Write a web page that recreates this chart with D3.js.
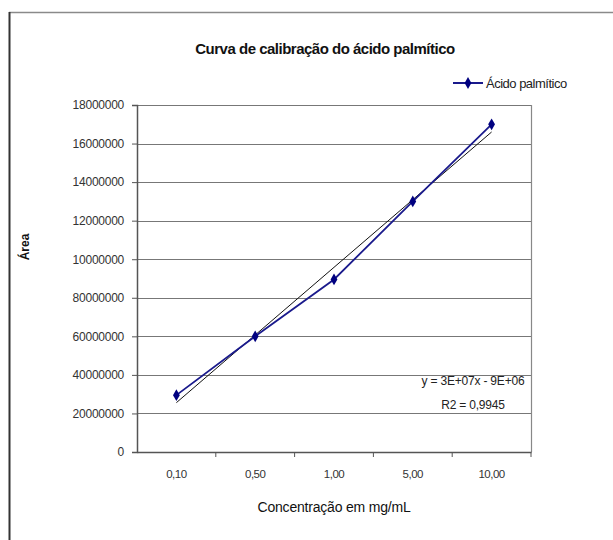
<!DOCTYPE html>
<html><head><meta charset="utf-8">
<script src="https://cdn.jsdelivr.net/npm/d3@7"></script>
<style>body{margin:0;background:#fff}svg{display:block}text{font-family:"Liberation Sans",Arial,sans-serif}</style>
</head><body>
<script>
const categories = ["0,10","0,50","1,00","5,00","10,00"];
const seriesName = "Ácido palmítico";
const values = [2950000, 6000000, 8950000, 13000000, 17000000];
const yTickValues = [0,2000000,4000000,6000000,8000000,10000000,12000000,14000000,16000000,18000000];
const yTickLabels = ["0","20000000","40000000","60000000","80000000","10000000","12000000","14000000","16000000","18000000"];
const title = "Curva de calibração do ácido palmítico";
const xTitle = "Concentração em mg/mL";
const yTitle = "Área";
const eqLines = ["y = 3E+07x - 9E+06","R2 = 0,9945"];

const W=613,H=540;
const m={l:137,r:531,t:105,b:452};
const svg=d3.select("body").append("svg").attr("width",W).attr("height",H);

// outer frame
svg.append("line").attr("x1",9).attr("x2",W).attr("y1",12.5).attr("y2",12.5).attr("stroke","#8a8a8a").attr("stroke-width",1.5);
svg.append("line").attr("x1",9.5).attr("x2",9.5).attr("y1",12).attr("y2",H).attr("stroke","#333").attr("stroke-width",2);

const x=d3.scaleBand().domain(categories).range([m.l,m.r]);
const y=d3.scaleLinear().domain([0,18000000]).range([m.b,m.t]);

// gridlines
svg.append("g").selectAll("line").data(yTickValues.filter(v=>v>0)).join("line")
 .attr("x1",m.l).attr("x2",m.r).attr("y1",d=>Math.round(y(d))+0.5).attr("y2",d=>Math.round(y(d))+0.5)
 .attr("stroke","#777").attr("stroke-width",1);
// right border
svg.append("line").attr("x1",m.r+0.5).attr("x2",m.r+0.5).attr("y1",m.t).attr("y2",m.b).attr("stroke","#888").attr("stroke-width",1.2);

// y axis
const yAxis=d3.axisLeft(y).tickValues(yTickValues).tickFormat((d,i)=>yTickLabels[i]).tickSize(5).tickPadding(8);
const gy=svg.append("g").attr("transform",`translate(${m.l},0)`).call(yAxis);
gy.select(".domain").attr("stroke","#555").attr("stroke-width",1.5);
gy.selectAll(".tick line").attr("stroke","#555");
gy.selectAll("text").attr("font-size","12px").attr("fill","#333").attr("font-family","Liberation Sans, Arial, sans-serif").attr("letter-spacing","-0.25");

// x axis
const xAxis=d3.axisBottom(x).tickSize(0).tickPadding(18);
const gx=svg.append("g").attr("transform",`translate(0,${m.b})`).call(xAxis);
gx.select(".domain").attr("stroke","#555").attr("stroke-width",1.5);
gx.selectAll("text").attr("font-size","11.5px").attr("fill","#333").attr("font-family","Liberation Sans, Arial, sans-serif").attr("letter-spacing","-0.5");
// category boundary ticks
svg.append("g").selectAll("line").data(categories).join("line")
 .attr("x1",d=>x(d)+x.bandwidth()).attr("x2",d=>x(d)+x.bandwidth())
 .attr("y1",m.b).attr("y2",m.b+5).attr("stroke","#555");

// trendline (least squares on category index 1..n)
const n=values.length, xs=values.map((v,i)=>i+1);
const mx=d3.mean(xs), my=d3.mean(values);
const slope=d3.sum(xs.map((xi,i)=>(xi-mx)*(values[i]-my)))/d3.sum(xs.map(xi=>(xi-mx)**2));
const icpt=my-slope*mx;
const cx=i=>x(categories[i])+x.bandwidth()/2;
svg.append("line").attr("x1",cx(0)).attr("y1",y(slope*1+icpt)).attr("x2",cx(n-1)).attr("y2",y(slope*n+icpt))
 .attr("stroke","#111").attr("stroke-width",1);

// series
const line=d3.line().x((d,i)=>cx(i)).y(d=>y(d));
svg.append("path").datum(values).attr("d",line).attr("fill","none").attr("stroke","#1a1a8c").attr("stroke-width",1.8);
const diamond=d3.symbol().type(d3.symbolDiamond).size(40);
svg.append("g").selectAll("path").data(values).join("path")
 .attr("d",diamond).attr("transform",(d,i)=>`translate(${cx(i)},${y(d)})`).attr("fill","#000080");

// equation
const eq=svg.append("text").attr("text-anchor","middle").attr("font-size","12px").attr("letter-spacing","-0.2").attr("fill","#222");
eq.selectAll("tspan").data(eqLines).join("tspan").attr("x",473).attr("y",(d,i)=>385+i*24).text(d=>d);

// title
svg.append("text").attr("x",325).attr("y",54).attr("text-anchor","middle").attr("font-size","15px").attr("font-weight","bold").attr("letter-spacing","-0.5").attr("fill","#111").text(title);
// x title
svg.append("text").attr("x",334).attr("y",512).attr("text-anchor","middle").attr("font-size","14px").attr("letter-spacing","-0.2").attr("fill","#111").text(xTitle);
// y title
svg.append("text").attr("transform","translate(29,247) rotate(-90)").attr("text-anchor","middle").attr("font-size","12px").attr("font-weight","bold").attr("fill","#111").text(yTitle);

// legend
const lg=svg.append("g");
lg.append("line").attr("x1",453).attr("x2",483).attr("y1",83).attr("y2",83).attr("stroke","#1a1a8c").attr("stroke-width",2);
lg.append("path").attr("d",diamond).attr("transform","translate(468,83)").attr("fill","#000080");
lg.append("text").attr("x",486).attr("y",87.5).attr("font-size","13px").attr("letter-spacing","-0.5").attr("fill","#222").text(seriesName);
</script>
</body></html>
